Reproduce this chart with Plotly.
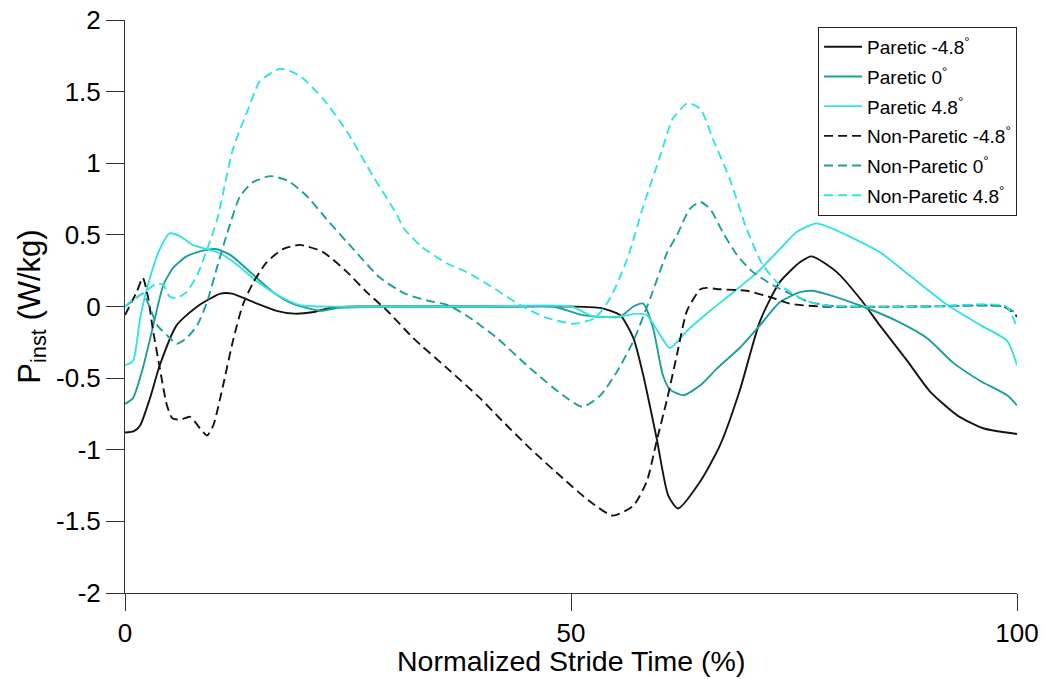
import plotly.graph_objects as go

# ---- data ----
p_neg_t = [0, 1, 1.7, 2.8, 3.9, 5.8, 8.1, 10.7, 12, 14.4, 17, 19, 21, 23, 26, 30, 40, 50, 53.3, 55.5, 57,
           58.1, 59.6, 60.9, 62, 64.5, 66.7, 68.9, 71.2, 73.4, 75.7, 77, 79.8, 82.6, 84.6, 87.7, 90.2, 93.3,
           96.2, 100]
p_neg_y = [-0.88, -0.87, -0.83, -0.64, -0.41, -0.13, 0.0, 0.09, 0.09, 0.03, -0.03, -0.05, -0.04, -0.01, 0.0,
           0.0, 0.0, 0.0, -0.01, -0.06, -0.22, -0.48, -0.92, -1.32, -1.41, -1.22, -0.97, -0.59, -0.1, 0.17,
           0.31, 0.35, 0.24, 0.04, -0.13, -0.38, -0.59, -0.76, -0.85, -0.89]

p_zero_t = [0, 0.9, 2, 3.1, 4.3, 5.4, 6.9, 8.7, 10.3, 11.8, 14.4, 16.6, 18.8, 21.9, 23.8, 30, 40, 48, 51.3,
            55.5, 57, 58.1, 59.2, 60.3, 61.1, 62.6, 64.5, 66.4, 68.9, 71.2, 73.4, 75.7, 77, 79, 82.7, 86.5,
            89.9, 92.8, 95.9, 98.9, 100]
p_zero_y = [-0.68, -0.64, -0.43, -0.15, 0.15, 0.27, 0.35, 0.39, 0.40, 0.36, 0.22, 0.1, 0.02, -0.03, -0.01,
            0.0, 0.0, 0.0, -0.06, -0.07, 0.0, 0.02, -0.15, -0.48, -0.58, -0.62, -0.55, -0.43, -0.29, -0.13,
            0.03, 0.1, 0.11, 0.08, 0.0, -0.1, -0.22, -0.39, -0.52, -0.62, -0.69]

p_pos_t = [0, 0.9, 1.7, 2.8, 3.9, 5, 6.2, 7.6, 9.2, 10.7, 12.6, 15.1, 17.4, 19.6, 22, 30, 40, 50, 52.5, 55.5,
           57.4, 58.5, 60, 61.1, 63, 65.6, 68.2, 70.9, 73.4, 75.3, 77.5, 79.8, 84.6, 88.3, 92.2, 95.9, 98.9,
           100]
p_pos_y = [-0.41, -0.38, -0.08, 0.2, 0.4, 0.51, 0.49, 0.43, 0.40, 0.37, 0.29, 0.16, 0.07, 0.01, 0.0, 0.0,
           0.0, 0.0, -0.07, -0.07, -0.05, -0.06, -0.2, -0.29, -0.17, -0.03, 0.1, 0.24, 0.40, 0.52, 0.58,
           0.53, 0.38, 0.2, 0.01, -0.13, -0.24, -0.41]

np_neg_t = [0, 1.3, 2, 2.6, 3.1, 3.9, 4.7, 5.3, 6.2, 7.3, 8.4, 9.2, 9.9, 11, 12.1, 13.2, 14.4, 15.9, 17.7,
            19.6, 22.2, 24.9, 27.1, 29.4, 32.3, 36.1, 39.8, 42, 45.4, 49.1, 52.1, 54.7, 57, 58.5, 59.6, 60.8,
            61.9, 63, 64.5, 65.2, 66.7, 69.7, 72.6, 74.5, 77.9, 90, 98.5, 100]
np_neg_y = [-0.06, 0.1, 0.2, 0.06, -0.15, -0.43, -0.69, -0.78, -0.79, -0.77, -0.85, -0.9, -0.83, -0.55,
            -0.24, 0.01, 0.17, 0.31, 0.4, 0.43, 0.38, 0.24, 0.1, -0.03, -0.22, -0.43, -0.64, -0.78, -0.99,
            -1.2, -1.36, -1.46, -1.39, -1.22, -0.94, -0.64, -0.33, -0.03, 0.12, 0.13, 0.12, 0.11, 0.06, 0.02,
            0.0, 0.0, 0.0, -0.07]

np_zero_t = [0, 1.1, 2, 2.8, 3.6, 4.7, 5.8, 6.9, 8.1, 9.2, 10.3, 11.4, 12.9, 14.4, 16.3, 18.2, 20.4, 22.6,
             25.6, 28.6, 31.4, 34, 36.2, 38.7, 41.7, 45.4, 49.1, 51.3, 53.3, 55.2, 57, 58.9, 60.8, 61.9,
             63.3, 64.5, 65.6, 67, 68.6, 70.4, 72.6, 74.9, 76.8, 80, 90, 98.5, 100]
np_zero_y = [0.0, 0.05, 0.09, -0.01, -0.13, -0.2, -0.26, -0.22, -0.13, 0.03, 0.27, 0.5, 0.77, 0.87, 0.91,
             0.88, 0.77, 0.61, 0.4, 0.2, 0.09, 0.04, 0.01, -0.08, -0.22, -0.43, -0.62, -0.7, -0.62, -0.45,
             -0.24, 0.06, 0.38, 0.5, 0.68, 0.73, 0.68, 0.52, 0.36, 0.24, 0.15, 0.08, 0.03, 0.0, 0.0, 0.0,
             -0.05]

np_pos_t = [0, 1.1, 2, 2.8, 3.6, 4.3, 5, 5.8, 6.9, 8.1, 9.2, 10.3, 12.1, 13.7, 15.1, 17.4, 19.6, 22.2, 24.9,
            27.8, 30.5, 31.2, 33.2, 36.1, 38.3, 41.3, 44.3, 47.3, 50.4, 52.7, 54.4, 56.3, 58.1, 60, 61.4,
            63.1, 64.5, 65.9, 67.8, 69.7, 71.5, 73.4, 75.7, 78, 90, 98.8, 100]
np_pos_y = [0.0, 0.06, 0.09, 0.13, 0.16, 0.15, 0.07, 0.06, 0.1, 0.22, 0.4, 0.6, 1.1, 1.36, 1.57, 1.66,
            1.61, 1.45, 1.22, 0.91, 0.64, 0.55, 0.42, 0.3, 0.24, 0.13, 0.01, -0.08, -0.12, -0.08, 0.06,
            0.33, 0.7, 1.05, 1.31, 1.42, 1.38, 1.17, 0.89, 0.54, 0.29, 0.15, 0.06, 0.01, 0.0, 0.0, -0.15]

series_names = ["Paretic -4.8<sup>°</sup>", "Paretic 0<sup>°</sup>", "Paretic 4.8<sup>°</sup>",
                "Non-Paretic -4.8<sup>°</sup>", "Non-Paretic 0<sup>°</sup>", "Non-Paretic 4.8<sup>°</sup>"]

x_ticks = [0, 50, 100]
y_ticks = [-2, -1.5, -1, -0.5, 0, 0.5, 1, 1.5, 2]
y_tick_text = ["-2", "-1.5", "-1", "-0.5", "0", "0.5", "1", "1.5", "2"]
x_title = "Normalized Stride Time (%)"
y_title = "P<sub>inst</sub> (W/kg)"

# ---- styling ----
C_BLACK = "#141414"
C_TEAL = "#1e9e9a"
C_CYAN = "#34e2e2"
FONT = "Liberation Sans, Arial, sans-serif"

data = [
    (p_neg_t, p_neg_y, C_BLACK, "solid"),
    (p_zero_t, p_zero_y, C_TEAL, "solid"),
    (p_pos_t, p_pos_y, C_CYAN, "solid"),
    (np_neg_t, np_neg_y, C_BLACK, "9px,5px"),
    (np_zero_t, np_zero_y, C_TEAL, "9px,5px"),
    (np_pos_t, np_pos_y, C_CYAN, "9px,5px"),
]

fig = go.Figure()
for i, ((tx, ty, col, dash), name) in enumerate(zip(data, series_names)):
    fig.add_trace(go.Scatter(
        x=tx, y=ty, mode="lines", name=name, legendgroup=f"g{i}",
        line=dict(color=col, width=1.9, dash=dash, shape="spline", smoothing=0.6),
    ))

fig.update_layout(
    width=1046, height=679,
    margin=dict(l=125, r=29, t=20, b=86, autoexpand=False),
    paper_bgcolor="white", plot_bgcolor="white",
    font=dict(family=FONT, color="black", size=25),
    showlegend=True,
    legend=dict(
        x=0.777, y=0.988, xanchor="left", yanchor="top",
        bgcolor="white", bordercolor="#222", borderwidth=1,
        font=dict(family=FONT, size=19, color="black"),
        tracegroupgap=2, traceorder="grouped", itemwidth=38,
    ),
    xaxis=dict(
        range=[0, 100], tickvals=x_ticks, ticktext=[str(v) for v in x_ticks],
        showgrid=False, zeroline=False, showline=True, linecolor="#333", linewidth=1,
        ticks="outside", ticklen=17, tickcolor="#333", tickwidth=1, automargin=False,
        tickfont=dict(size=26, family=FONT), ticklabeloverflow="allow",
    ),
    yaxis=dict(
        range=[-2, 2], tickvals=y_ticks, ticktext=y_tick_text,
        showgrid=False, zeroline=False, showline=True, linecolor="#333", linewidth=1,
        ticks="outside", ticklen=18, tickcolor="#333", tickwidth=1, automargin=False,
        tickfont=dict(size=26, family=FONT), ticklabeloverflow="allow",
        title=dict(text=y_title, font=dict(size=31, family=FONT), standoff=6),
    ),
    annotations=[dict(
        text=x_title, xref="paper", yref="paper", x=0.5, y=-0.1187,
        xanchor="center", yanchor="middle", showarrow=False,
        font=dict(size=28.5, family=FONT, color="black"),
    )],
)

# remove the default 8px page margin so the figure fills the window exactly
fig.write_html("out.html", config={"displayModeBar": False},
               post_script="document.body.style.margin='0px';")
